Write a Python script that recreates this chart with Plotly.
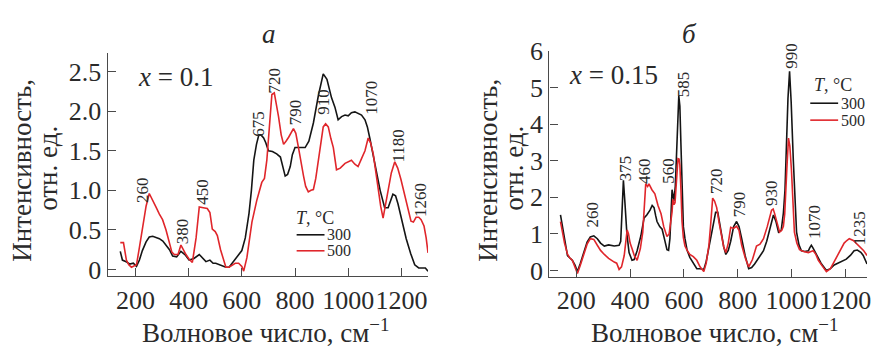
import plotly.graph_objects as go

# ---------------- data ----------------
# Panel "а", x = 0.1
a_wn_300 = [143, 151, 165, 178, 192, 204, 215, 226, 240, 252, 265, 280, 290, 303, 315, 328, 340, 355, 371, 386, 402, 420,
            440, 452, 465, 480, 492, 502, 520, 540, 552, 563, 580, 600, 613, 627, 636, 645, 655, 664, 672, 682, 690, 700, 715,
            731, 745, 763, 772, 782, 790, 800, 815, 838, 852, 869, 888, 906, 920, 937, 950, 962, 975, 988, 1000, 1012, 1025,
            1040, 1050, 1063, 1072, 1081, 1093, 1105, 1120, 1137, 1150, 1168, 1178, 1187, 1200, 1218, 1235, 1250, 1265, 1280,
            1290, 1300]
a_int_300 = [0.23, 0.12, 0.10, 0.07, 0.08, 0.04, 0.12, 0.24, 0.35, 0.41, 0.42, 0.40, 0.39, 0.36, 0.31, 0.25, 0.17, 0.16,
             0.23, 0.19, 0.12, 0.14, 0.19, 0.15, 0.10, 0.12, 0.08, 0.08, 0.06, 0.03, 0.03, 0.08, 0.15, 0.24, 0.40, 0.71, 1.00,
             1.38, 1.58, 1.70, 1.70, 1.66, 1.60, 1.50, 1.49, 1.46, 1.42, 1.18, 1.20, 1.30, 1.45, 1.54, 1.54, 1.54, 1.62, 1.85,
             2.20, 2.47, 2.40, 2.17, 2.05, 1.89, 1.93, 1.95, 1.94, 1.98, 1.99, 1.97, 1.95, 1.89, 1.80, 1.66, 1.45, 1.26, 1.00,
             0.78, 0.78, 0.95, 0.93, 0.83, 0.65, 0.39, 0.20, 0.06, 0.02, 0.02, 0.02, -0.02]

a_wn_500 = [143, 155, 166, 175, 185, 204, 215, 227, 240, 252, 265, 277, 290, 302, 315, 327, 337, 346, 360, 371, 380, 390,
            402, 414, 428, 440, 455, 470, 480, 489, 500, 508, 520, 540, 552, 563, 575, 588, 600, 607, 619, 638, 656, 675, 685,
            694, 703, 713, 722, 730, 738, 748, 757, 766, 776, 794, 803, 813, 822, 832, 840, 850, 860, 869, 878, 888, 897, 906,
            915, 925, 935, 944, 956, 970, 988, 1000, 1012, 1025, 1037, 1050, 1063, 1075, 1084, 1094, 1103, 1112, 1122, 1131,
            1140, 1150, 1162, 1175, 1186, 1198, 1208, 1218, 1227, 1236, 1245, 1255, 1265, 1274, 1285, 1293, 1300]
a_int_500 = [0.34, 0.34, 0.12, 0.06, 0.03, 0.06, 0.28, 0.55, 0.80, 0.96, 0.88, 0.79, 0.70, 0.63, 0.50, 0.33, 0.22, 0.19,
             0.19, 0.31, 0.25, 0.19, 0.13, 0.09, 0.40, 0.79, 0.78, 0.77, 0.72, 0.51, 0.48, 0.43, 0.25, 0.03, 0.03, 0.05, 0.08,
             0.08, 0.04, -0.02, 0.15, 0.60, 0.87, 1.10, 1.15, 1.38, 1.80, 2.21, 2.23, 2.10, 1.93, 1.70, 1.58, 1.62, 1.67, 1.78,
             1.72, 1.54, 1.35, 1.18, 1.05, 0.98, 1.00, 1.01, 1.15, 1.38, 1.65, 1.80, 1.84, 1.80, 1.65, 1.54, 1.26, 1.28, 1.34,
             1.36, 1.38, 1.33, 1.30, 1.40, 1.50, 1.66, 1.60, 1.46, 1.25, 1.02, 0.80, 0.65, 0.82, 1.02, 1.22, 1.36, 1.28, 1.14,
             1.00, 0.87, 0.72, 0.61, 0.60, 0.66, 0.66, 0.63, 0.55, 0.40, 0.21]

# Panel "б", x = 0.15
b_wn_300 = [141, 150, 156, 167, 175, 185, 195, 204, 215, 230, 240, 252, 265, 278, 290, 304, 320, 341, 359, 365, 370, 375,
            381, 388, 396, 407, 415, 426, 440, 452, 462, 474, 482, 489, 495, 500, 510, 519, 528, 537, 543, 548, 553, 556, 560,
            563, 568, 574, 578, 581, 585, 589, 593, 598, 604, 612, 622, 635, 648, 660, 674, 683, 693, 702, 711, 718, 726, 733,
            741, 748, 756, 765, 774, 785, 796, 805, 815, 828, 841, 852, 863, 880, 896, 908, 919, 926, 933, 942, 952, 962, 970,
            976, 981, 987, 993, 999, 1007, 1013, 1019, 1028, 1037, 1050, 1063, 1068, 1074, 1080, 1093, 1110, 1130, 1145, 1159,
            1180, 1204, 1220, 1233, 1245, 1258, 1267, 1275, 1281]
b_int_300 = [1.52, 1.10, 0.87, 0.41, 0.35, 0.28, 0.15, -0.03, 0.20, 0.54, 0.78, 0.92, 0.95, 0.87, 0.75, 0.67, 0.70, 0.67,
             0.69, 0.80, 1.70, 2.47, 1.82, 1.00, 0.49, 0.28, 0.30, 0.54, 0.95, 1.44, 1.52, 1.65, 1.78, 1.72, 1.50, 1.34, 1.20,
             1.13, 0.85, 0.57, 0.55, 0.87, 1.70, 2.21, 2.05, 1.90, 2.30, 3.19, 4.20, 4.78, 4.50, 3.44, 2.20, 1.20, 0.87, 0.55,
             0.36, 0.20, 0.05, 0.05, 0.03, 0.25, 0.62, 0.95, 1.31, 1.59, 1.59, 1.30, 1.05, 0.65, 0.44, 0.55, 0.80, 1.20, 1.34,
             1.20, 0.87, 0.40, 0.05, 0.08, 0.18, 0.35, 0.54, 0.80, 1.13, 1.30, 1.52, 1.35, 1.05, 1.10, 1.57, 2.20, 3.37, 4.70,
             5.45, 4.60, 3.01, 1.80, 1.05, 0.70, 0.54, 0.52, 0.54, 0.62, 0.69, 0.62, 0.44, 0.20, 0.00, 0.05, 0.15, 0.22, 0.31,
             0.42, 0.54, 0.56, 0.50, 0.41, 0.30, 0.18]

b_wn_500 = [141, 150, 156, 167, 175, 185, 195, 204, 215, 230, 240, 252, 265, 278, 290, 304, 320, 341, 350, 359, 368, 378,
            384, 389, 394, 400, 407, 416, 426, 438, 447, 452, 458, 465, 470, 481, 492, 504, 515, 525, 537, 545, 552, 556, 559,
            563, 567, 572, 578, 582, 585, 589, 593, 598, 604, 612, 622, 635, 648, 660, 674, 683, 693, 700, 707, 714, 722, 731,
            741, 748, 756, 765, 774, 785, 796, 805, 815, 828, 841, 855, 870, 883, 896, 910, 926, 932, 937, 946, 956, 964, 970,
            975, 978, 983, 989, 994, 1000, 1006, 1011, 1020, 1030, 1045, 1063, 1073, 1081, 1090, 1100, 1115, 1130, 1145, 1167,
            1182, 1196, 1206, 1215, 1230, 1252, 1268, 1281]
b_int_500 = [1.34, 1.00, 0.75, 0.45, 0.35, 0.28, 0.10, -0.08, 0.15, 0.49, 0.72, 0.87, 0.85, 0.69, 0.55, 0.44, 0.33, 0.23,
             0.20, 0.03, 0.10, 0.41, 0.80, 1.11, 1.00, 0.75, 0.60, 0.40, 0.28, 0.60, 1.05, 1.70, 2.37, 2.30, 2.37, 2.21, 2.10,
             1.77, 1.55, 1.20, 0.93, 1.00, 1.34, 1.60, 1.95, 1.80, 1.85, 2.40, 3.06, 3.05, 2.88, 2.20, 1.34, 0.90, 0.67, 0.55,
             0.44, 0.38, 0.28, 0.10, -0.03, 0.20, 0.69, 1.30, 1.98, 1.90, 1.72, 1.30, 0.87, 0.65, 0.49, 0.75, 1.18, 1.15, 1.21,
             1.10, 0.69, 0.35, 0.10, 0.30, 0.67, 0.72, 0.87, 1.20, 1.65, 1.68, 1.57, 1.30, 1.05, 1.10, 1.21, 1.55, 1.90, 2.80,
             3.62, 3.40, 2.75, 1.70, 1.05, 0.75, 0.57, 0.52, 0.49, 0.52, 0.54, 0.45, 0.28, 0.12, -0.03, 0.05, 0.36, 0.55, 0.75,
             0.82, 0.87, 0.82, 0.67, 0.55, 0.41]

# peak labels: (text, pixel x, pixel y) centres of the rotated labels
a_peaks = ["260", "380", "450", "675", "720", "790", "910", "1070", "1180", "1260"]
a_peak_px = [143, 183, 203, 260, 276, 297, 325, 373, 400, 422]
a_peak_py = [188, 232, 190, 118, 72, 106, 95, 90, 142, 199]
b_peaks = ["260", "375", "460", "560", "585", "720", "790", "930", "990", "1070", "1235"]
b_peak_px = [595, 628, 648, 672, 687, 720, 743, 775, 795, 818, 863]
b_peak_py = [214, 165, 168, 168, 76, 179, 204, 191, 45, 222, 229]

a_yticks = [0, 0.5, 1.0, 1.5, 2.0, 2.5]
a_yticklabels = ["0", "0.5", "1.0", "1.5", "2.0", "2.5"]
b_yticks = [0, 1, 2, 3, 4, 5, 6]
xticks = [200, 400, 600, 800, 1000, 1200]

series_names = ["300", "500"]
# ---------------- figure ----------------
W, H = 871, 349
FONT = "Liberation Serif"
TXT = "#2a2a2a"
AX = "#4a4a4a"
BLACK = "#151515"
RED = "#e0262b"


def px(x):
    return x / W


def py(y):
    return 1 - y / H


fig = go.Figure()
fig.add_trace(go.Scatter(x=a_wn_300, y=a_int_300, mode="lines", name=series_names[0],
                         line=dict(color=BLACK, width=1.6), xaxis="x", yaxis="y", showlegend=False))
fig.add_trace(go.Scatter(x=a_wn_500, y=a_int_500, mode="lines", name=series_names[1],
                         line=dict(color=RED, width=1.6), xaxis="x", yaxis="y", showlegend=False))
fig.add_trace(go.Scatter(x=b_wn_300, y=b_int_300, mode="lines", name=series_names[0],
                         line=dict(color=BLACK, width=1.6), xaxis="x2", yaxis="y2", showlegend=False))
fig.add_trace(go.Scatter(x=b_wn_500, y=b_int_500, mode="lines", name=series_names[1],
                         line=dict(color=RED, width=1.6), xaxis="x2", yaxis="y2", showlegend=False))

axis_common = dict(showgrid=False, zeroline=False, showline=True, linecolor=AX, linewidth=1.3,
                   ticks="inside", ticklen=8, tickwidth=1.3, tickcolor=AX, ticklabeloverflow="allow",
                   tickfont=dict(family=FONT, size=26, color=TXT))

fig.update_layout(
    width=W, height=H, margin=dict(l=0, r=0, t=0, b=0),
    paper_bgcolor="white", plot_bgcolor="white",
    xaxis=dict(domain=[px(108), px(430)], range=[95, 1300], tickvals=xticks, tickangle=0, anchor="y", **axis_common),
    yaxis=dict(domain=[py(280), py(43)], range=[-0.083, 2.728], tickvals=a_yticks, ticktext=a_yticklabels,
               anchor="x", **axis_common),
    xaxis2=dict(domain=[px(552), 1.0], range=[100, 1281], tickvals=xticks, tickangle=0, anchor="y2", **axis_common),
    yaxis2=dict(domain=[py(281), py(40)], range=[-0.18, 6.015], tickvals=b_yticks, anchor="x2", **axis_common),
)

ann = []


def add_text(text, x, y, size, angle=0, xanchor="center"):
    ann.append(dict(text=text, x=px(x), y=py(y), xref="paper", yref="paper", showarrow=False,
                    xanchor=xanchor, yanchor="middle", textangle=angle,
                    font=dict(family=FONT, size=size, color=TXT)))


# panel letters
add_text("<i>а</i>", 270, 22, 27)
add_text("<i>б</i>", 693, 22, 27)
# composition
add_text("<i>x</i> = 0.1", 176, 68, 27)
add_text("<i>x</i> = 0.15", 616, 66, 27)
# axis titles
for cx in (267, 718):
    add_text("Волновое число, см<sup>−1</sup>", cx, 338, 27)
for x1, x2 in ((22, 48), (490, 516)):
    add_text("Интенсивность,", x1, 167, 27, angle=-90)
    add_text("отн. ед.", x2, 165, 27, angle=-90)
# peak labels
for t, x, y in list(zip(a_peaks, a_peak_px, a_peak_py)) + list(zip(b_peaks, b_peak_px, b_peak_py)):
    add_text(t, x, y, 17, angle=-90)

# legends (drawn manually)
shapes = []
for (tx, ty, lx0, lx1, ly1, ly2) in ((316, 218, 298, 326, 236, 253), (837, 77, 814, 842, 96, 114)):
    add_text("<i>T</i>, °C", tx, ty, 18)
    for name, col, ly in ((series_names[0], BLACK, ly1), (series_names[1], RED, ly2)):
        shapes.append(dict(type="line", xref="paper", yref="paper", x0=px(lx0), x1=px(lx1), y0=py(ly), y1=py(ly),
                           line=dict(color=col, width=1.6)))
        add_text(name, lx1 + 1, ly, 16, xanchor="left")

fig.update_layout(annotations=ann, shapes=shapes)
fig.write_html("out.html")
